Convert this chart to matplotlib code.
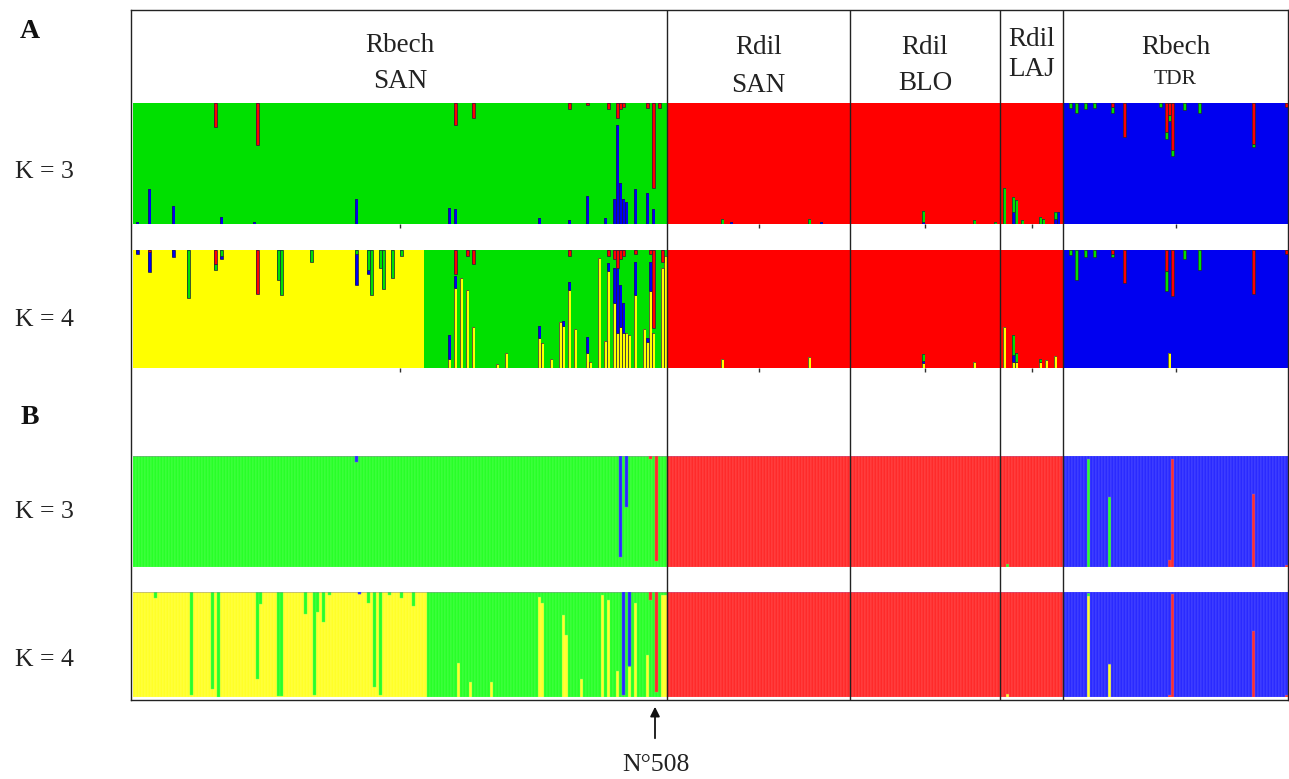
import numpy as np
import matplotlib
matplotlib.use("Agg")
import matplotlib.pyplot as plt
from matplotlib.colors import to_rgb
from matplotlib.transforms import blended_transform_factory

# ---------------- data ----------------
pop_top = ["Rbech", "Rdil", "Rdil", "Rdil", "Rbech"]
pop_bottom = ["SAN", "SAN", "BLO", "LAJ", "TDR"]
pop_sizes = [178, 61, 50, 21, 75]

# stacking order (bottom -> top) of clusters in each run
A_K3_order = ["blue", "green", "red"]
A_K4_order = ["yellow", "blue", "green", "red"]
B_K3_order = ["green", "red", "blue"]
B_K4_order = ["yellow", "green", "red", "blue"]

# runs of dominant cluster: (cluster, number of individuals)
A_K3_dominant = [("green", 178), ("red", 132), ("blue", 75)]
A_K4_dominant = [("yellow", 97), ("green", 81), ("red", 132), ("blue", 75)]
B_K3_dominant = [("green", 178), ("red", 132), ("blue", 75)]
B_K4_dominant = [("yellow", 98), ("green", 80), ("red", 132), ("blue", 75)]

# admixed individuals: index -> membership of non-dominant clusters
A_K3_admixed = {
    1: {"blue": 0.02}, 5: {"blue": 0.29}, 13: {"blue": 0.15}, 27: {"red": 0.20},
    29: {"blue": 0.06}, 40: {"blue": 0.02}, 41: {"red": 0.35}, 74: {"blue": 0.21},
    105: {"blue": 0.13}, 107: {"red": 0.18, "blue": 0.12}, 113: {"red": 0.12},
    135: {"blue": 0.05}, 145: {"blue": 0.03, "red": 0.05}, 151: {"blue": 0.23, "red": 0.02},
    157: {"blue": 0.05}, 158: {"red": 0.05}, 160: {"blue": 0.21},
    161: {"blue": 0.82, "red": 0.12}, 162: {"blue": 0.34, "red": 0.05},
    163: {"blue": 0.21, "red": 0.03}, 164: {"blue": 0.18}, 167: {"blue": 0.29},
    171: {"blue": 0.26, "red": 0.04}, 173: {"red": 0.70, "blue": 0.12}, 175: {"red": 0.04},
    196: {"green": 0.04}, 199: {"blue": 0.02}, 225: {"green": 0.04}, 229: {"blue": 0.02},
    263: {"green": 0.09, "blue": 0.02}, 280: {"green": 0.03}, 287: {"green": 0.02},
    290: {"green": 0.30}, 293: {"green": 0.12, "blue": 0.10}, 294: {"green": 0.20},
    296: {"green": 0.03}, 302: {"green": 0.06}, 303: {"green": 0.04},
    307: {"green": 0.06, "blue": 0.04}, 308: {"blue": 0.10},
    312: {"green": 0.04}, 314: {"green": 0.08}, 317: {"green": 0.05}, 320: {"green": 0.04},
    326: {"red": 0.03, "green": 0.05}, 330: {"red": 0.28}, 342: {"green": 0.03},
    344: {"red": 0.24, "green": 0.06}, 345: {"red": 0.10, "green": 0.05},
    346: {"red": 0.39, "green": 0.05}, 350: {"green": 0.06}, 355: {"green": 0.08},
    373: {"red": 0.34, "green": 0.02}, 384: {"red": 0.03},
}
A_K4_admixed = {
    1: {"blue": 0.03}, 5: {"blue": 0.17, "red": 0.02}, 13: {"blue": 0.06},
    18: {"green": 0.41}, 27: {"red": 0.12, "green": 0.05}, 29: {"blue": 0.03, "green": 0.05},
    41: {"red": 0.37}, 48: {"green": 0.25}, 49: {"green": 0.38}, 59: {"green": 0.10},
    74: {"blue": 0.27, "green": 0.03}, 78: {"green": 0.17, "blue": 0.03}, 79: {"green": 0.38},
    82: {"green": 0.15}, 83: {"green": 0.33}, 86: {"green": 0.24}, 89: {"green": 0.05},
    105: {"yellow": 0.08, "blue": 0.20}, 107: {"yellow": 0.68, "blue": 0.10, "red": 0.20},
    109: {"yellow": 0.76}, 111: {"yellow": 0.66, "red": 0.05}, 113: {"yellow": 0.35, "red": 0.12},
    121: {"yellow": 0.03}, 124: {"yellow": 0.13}, 135: {"yellow": 0.25, "blue": 0.11},
    136: {"yellow": 0.21}, 139: {"yellow": 0.08}, 142: {"yellow": 0.39},
    143: {"yellow": 0.36, "blue": 0.04}, 145: {"yellow": 0.66, "blue": 0.07, "red": 0.05},
    147: {"yellow": 0.33}, 151: {"yellow": 0.13, "blue": 0.13}, 152: {"yellow": 0.05},
    155: {"yellow": 0.93}, 157: {"yellow": 0.23}, 158: {"yellow": 0.82, "blue": 0.07, "red": 0.05},
    160: {"yellow": 0.55, "blue": 0.30, "red": 0.08}, 161: {"yellow": 0.30, "blue": 0.55, "red": 0.15},
    162: {"yellow": 0.35, "blue": 0.35, "red": 0.08}, 163: {"yellow": 0.30, "blue": 0.25, "red": 0.05},
    164: {"yellow": 0.30}, 165: {"yellow": 0.28}, 167: {"yellow": 0.62, "blue": 0.28, "red": 0.03},
    170: {"yellow": 0.33}, 171: {"yellow": 0.22, "blue": 0.03},
    172: {"yellow": 0.65, "blue": 0.25, "red": 0.03}, 173: {"red": 0.66, "yellow": 0.30},
    176: {"red": 0.10, "yellow": 0.85}, 177: {"yellow": 0.95},
    196: {"yellow": 0.08}, 225: {"yellow": 0.09}, 263: {"green": 0.06, "yellow": 0.04, "blue": 0.02},
    280: {"yellow": 0.05}, 290: {"yellow": 0.35}, 293: {"yellow": 0.05, "blue": 0.06, "green": 0.17},
    294: {"green": 0.08, "yellow": 0.05}, 302: {"yellow": 0.05, "green": 0.03},
    304: {"yellow": 0.07}, 307: {"yellow": 0.10},
    312: {"green": 0.04}, 314: {"green": 0.25}, 317: {"green": 0.06}, 320: {"green": 0.06},
    326: {"red": 0.03, "green": 0.03}, 330: {"red": 0.28}, 344: {"red": 0.18, "green": 0.17},
    345: {"yellow": 0.13}, 346: {"red": 0.39}, 350: {"green": 0.08}, 355: {"green": 0.17},
    373: {"red": 0.37}, 384: {"red": 0.03},
}
B_K3_admixed = {
    74: {"blue": 0.05}, 162: {"blue": 0.91}, 164: {"blue": 0.46}, 172: {"red": 0.03},
    174: {"red": 0.95}, 291: {"green": 0.03},
    318: {"green": 0.97}, 325: {"green": 0.63}, 345: {"red": 0.06}, 346: {"red": 0.97},
    373: {"red": 0.66}, 384: {"red": 0.02},
}
B_K4_admixed = {
    7: {"green": 0.06}, 19: {"green": 0.98}, 26: {"green": 0.92}, 28: {"green": 1.0},
    41: {"green": 0.83}, 42: {"green": 0.11}, 48: {"green": 0.99}, 49: {"green": 0.99},
    57: {"green": 0.21}, 60: {"green": 0.98}, 61: {"green": 0.19}, 63: {"green": 0.29},
    65: {"green": 0.03}, 75: {"blue": 0.02}, 78: {"green": 0.10}, 80: {"green": 0.90},
    82: {"green": 0.98}, 85: {"green": 0.03}, 89: {"green": 0.06}, 93: {"green": 0.13},
    108: {"yellow": 0.32}, 112: {"yellow": 0.14}, 119: {"yellow": 0.14},
    135: {"yellow": 0.95}, 136: {"yellow": 0.90}, 143: {"yellow": 0.78}, 144: {"yellow": 0.59},
    149: {"yellow": 0.17}, 156: {"yellow": 0.97}, 158: {"yellow": 0.92}, 161: {"yellow": 0.25},
    163: {"blue": 0.98}, 165: {"blue": 0.70, "yellow": 0.29}, 167: {"yellow": 0.90},
    171: {"yellow": 0.40}, 172: {"red": 0.08}, 174: {"red": 0.95},
    176: {"yellow": 0.97}, 177: {"yellow": 0.97}, 291: {"yellow": 0.03},
    318: {"yellow": 0.96, "green": 0.03}, 325: {"yellow": 0.31}, 345: {"red": 0.02},
    346: {"red": 0.98}, 373: {"red": 0.63}, 384: {"red": 0.02},
}

colors_A = {"green": "#00E000", "red": "#FF0000", "blue": "#0000F0", "yellow": "#FFFF00"}
colors_B = {"green": "#28FF28", "red": "#FF2A2A", "blue": "#2A2AFF", "yellow": "#FFFF28"}


def build_q(order, runs, admixed):
    n = sum(c for _, c in runs)
    dom = []
    for cl, c in runs:
        dom += [cl] * c
    q = np.zeros((n, len(order)))
    for i, cl in enumerate(dom):
        q[i, order.index(cl)] = 1.0
    for i, mix in admixed.items():
        d = dom[i]
        tot = 0.0
        for cl, v in mix.items():
            if cl != d:
                q[i, order.index(cl)] = v
                tot += v
        q[i, order.index(d)] = max(0.0, 1.0 - tot)
    return q, dom


W, H = 1289, 779
fig = plt.figure(figsize=(W / 100, H / 100), dpi=100)


def rect(x0, y0, x1, y1):
    return [x0 / W, 1 - y1 / H, (x1 - x0) / W, (y1 - y0) / H]


N = sum(pop_sizes)
bounds = np.cumsum(pop_sizes)
centers = bounds - np.array(pop_sizes) / 2.0


def draw_panel(yrange, order, runs, admixed, cmap, style):
    ax = fig.add_axes(rect(133, yrange[0], 1288, yrange[1]))
    q, dom = build_q(order, runs, admixed)
    x = np.arange(N)
    bottom = np.zeros(N)
    for k, cl in enumerate(order):
        h = q[:, k]
        col = cmap[cl]
        if style == "A":
            ax.bar(x, h, bottom=bottom, width=1.0, align="edge", color=col,
                   linewidth=0)
            minority = np.array([dom[i] != cl and h[i] > 0.004 for i in range(N)])
            if minority.any():
                ax.bar(x[minority], h[minority], bottom=bottom[minority], width=1.0,
                       align="edge", color=col, edgecolor="#202040", linewidth=0.5)
        else:
            rgb = np.array(to_rgb(col))
            edge = tuple(rgb * 0.75 + 0.25)
            ax.bar(x, h, bottom=bottom, width=1.0, align="edge", color=col,
                   edgecolor=edge, linewidth=0.3)
        bottom += h
    ax.set_xlim(0, N)
    ax.set_ylim(0, 1)
    for s in ax.spines.values():
        s.set_visible(False)
    ax.set_yticks([])
    if style == "A":
        ax.set_xticks(centers)
        ax.tick_params(axis="x", length=3, width=1.0, color="#303030", labelbottom=False)
    else:
        ax.set_xticks([])
    return ax


draw_panel((103, 224), A_K3_order, A_K3_dominant, A_K3_admixed, colors_A, "A")
draw_panel((250, 368), A_K4_order, A_K4_dominant, A_K4_admixed, colors_A, "A")
draw_panel((456, 567), B_K3_order, B_K3_dominant, B_K3_admixed, colors_B, "B")
draw_panel((592, 697), B_K4_order, B_K4_dominant, B_K4_admixed, colors_B, "B")

# frame overlay
ov = fig.add_axes(rect(131, 10, 1288, 700))
ov.set_facecolor("none")
ov.set_xlim(-2 / 3, N)
ov.set_ylim(0, 1)
ov.set_xticks([])
ov.set_yticks([])
for s in ov.spines.values():
    s.set_linewidth(1.0)
    s.set_color("#222222")
for b in bounds[:-1]:
    ov.axvline(b, color="#222222", lw=1.0)

serif = ["Liberation Serif", "DejaVu Serif"]
tr = blended_transform_factory(ov.transData, fig.transFigure)
head_y = [(45, 81), (47, 85), (47, 83), (40, 70), (47, 80)]
for i in range(len(pop_sizes)):
    ytop, ybot = head_y[i]
    ov.text(centers[i], 1 - ytop / H, pop_top[i], transform=tr, ha="center",
            va="center", family=serif, fontsize=19.5, color="#222222")
    ov.text(centers[i], 1 - ybot / H, pop_bottom[i], transform=tr, ha="center",
            va="center", family=serif, fontsize=15.5 if i == 4 else 19.5, color="#222222")

# left labels
for txt, y in [("A", 32), ("B", 418)]:
    fig.text(30 / W, 1 - y / H, txt, ha="center", va="center", family=serif,
             fontsize=20, fontweight="bold", color="#111111")
for txt, y in [("K = 3", 172), ("K = 4", 320), ("K = 3", 512), ("K = 4", 660)]:
    fig.text(44 / W, 1 - y / H, txt, ha="center", va="center", family=serif,
             fontsize=18.5, color="#222222")

# arrow to individual N°508
fig.add_artist(matplotlib.patches.FancyArrowPatch(
    (655 / W, 1 - 741 / H), (655 / W, 1 - 704 / H), transform=fig.transFigure,
    arrowstyle="-|>", mutation_scale=14, color="#111111", lw=1.3))
fig.text(656 / W, 1 - 765 / H, "N°508", ha="center", va="center", family=serif,
         fontsize=18.5, color="#222222")

fig.savefig("out.png", dpi=100)
